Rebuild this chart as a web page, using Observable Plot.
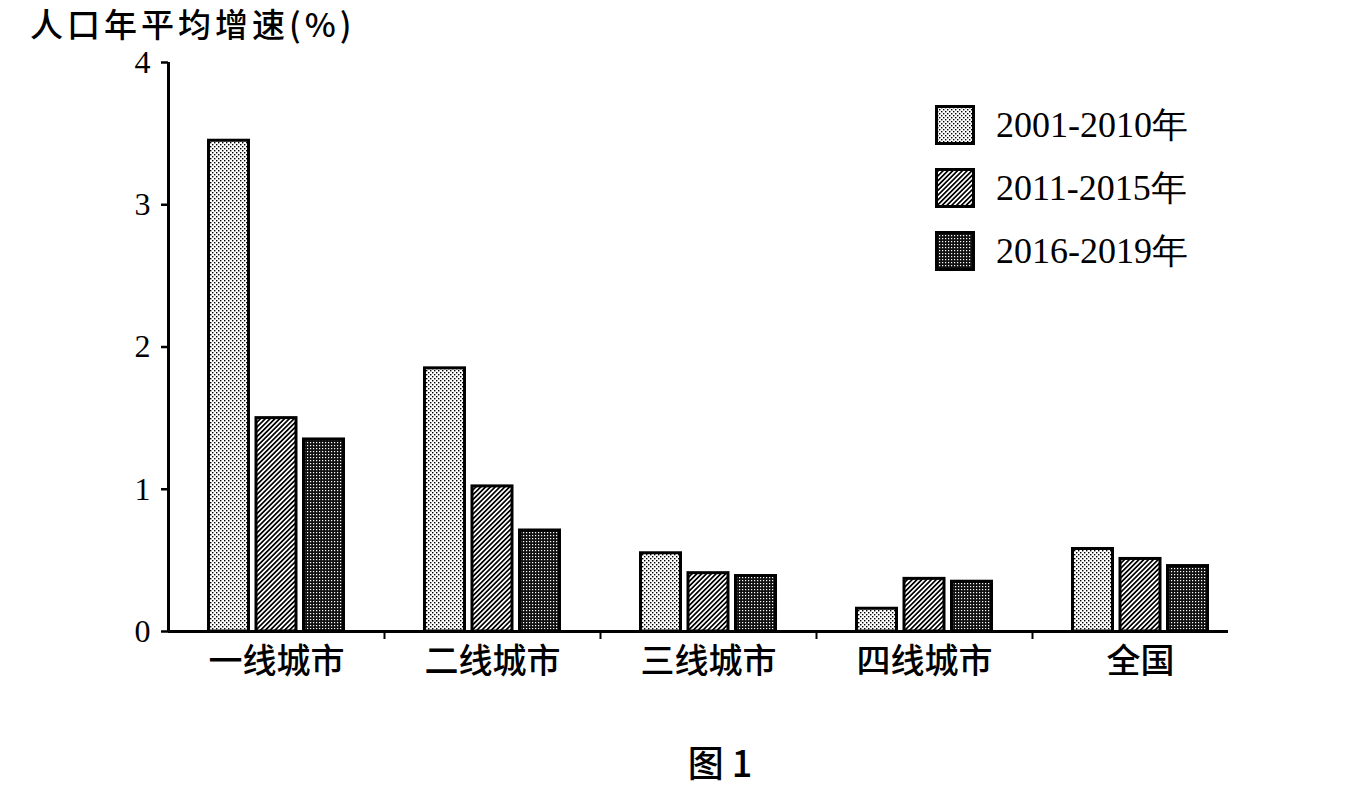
<!DOCTYPE html>
<html>
<head>
<meta charset="utf-8">
<script src="https://cdn.jsdelivr.net/npm/d3@7"></script>
<script src="https://cdn.jsdelivr.net/npm/@observablehq/plot@0.6"></script>
<style>
  html, body { margin: 0; padding: 0; background: #fff; }
  #wrap { position: relative; width: 1364px; height: 786px; overflow: hidden; }
  #title { position: absolute; left: 30px; top: 4px; font-family: "Noto Sans CJK SC", sans-serif; font-size: 33px; font-weight: 500; color: #000; letter-spacing: 4px; white-space: nowrap; line-height: 1.2; }
  #legend { position: absolute; left: 935px; top: 105px; }
  .row { display: flex; align-items: center; height: 40px; margin-bottom: 23px; }
  .row span { font-family: "Liberation Serif", serif; font-size: 36px; margin-left: 21px; color: #000; white-space: nowrap; }
  #caption { position: absolute; left: 0; width: 1440px; top: 735px; text-align: center; font-family: "Noto Sans CJK SC", sans-serif; font-size: 36px; font-weight: 500; color: #000; }
  #chart { position: absolute; left: 0; top: 0; }
</style>
</head>
<body>
<svg width="0" height="0" style="position:absolute">
  <defs>
    <pattern id="pat0" width="4" height="4" patternUnits="userSpaceOnUse">
      <rect width="4" height="4" fill="#fff"/>
      <rect x="0" y="0" width="1.4" height="1.4" fill="#000"/>
      <rect x="2" y="2" width="1.4" height="1.4" fill="#000"/>
    </pattern>
    <pattern id="pat1" width="3.4" height="3.4" patternUnits="userSpaceOnUse" patternTransform="rotate(45)">
      <rect width="3.4" height="3.4" fill="#fff"/>
      <rect x="0" y="0" width="1.7" height="3.4" fill="#000"/>
    </pattern>
    <pattern id="pat2" width="3" height="3" patternUnits="userSpaceOnUse">
      <rect width="3" height="3" fill="#111"/>
      <rect x="1" y="1" width="1.2" height="1.2" fill="#fff"/>
    </pattern>
  </defs>
</svg>
<div id="wrap">
  <div id="chart"></div>
  <div id="title">人口年平均增速(%)</div>
  <div id="legend"></div>
  <div id="caption">图 1</div>
</div>
<script>
const categories = ["一线城市", "二线城市", "三线城市", "四线城市", "全国"];
const periods = ["2001-2010年", "2011-2015年", "2016-2019年"];
const v2001_2010 = [3.45, 1.85, 0.55, 0.16, 0.58];
const v2011_2015 = [1.50, 1.02, 0.41, 0.37, 0.51];
const v2016_2019 = [1.35, 0.71, 0.39, 0.35, 0.46];
const yTicks = [0, 1, 2, 3, 4];

const seriesValues = [v2001_2010, v2011_2015, v2016_2019];
const fills = ["url(#pat0)", "url(#pat1)", "url(#pat2)"];

const W = 1364, H = 700, ML = 168, MR = 116, MT = 62, MB = 69;
const bw = (W - ML - MR) / categories.length;
const barW = 40, pitch = 47.5, off0 = 40.5;

const barMarks = seriesValues.map((vals, s) =>
  Plot.barY(categories.map((c, i) => ({cat: c, value: vals[i]})), {
    x: "cat", y: "value", fill: fills[s], stroke: "#000", strokeWidth: 3,
    insetLeft: off0 + s * pitch,
    insetRight: bw - (off0 + s * pitch) - barW
  })
);

const chart = Plot.plot({
  width: W, height: H,
  marginLeft: ML, marginRight: MR, marginTop: MT, marginBottom: MB,
  x: {domain: categories, padding: 0, axis: null, label: null},
  y: {domain: [0, 4], axis: null, label: null},
  style: {background: "#fff", color: "#000"},
  marks: [
    ...barMarks,
    Plot.ruleY([0], {strokeWidth: 3, insetRight: 20}),
    Plot.ruleX([categories[0]], {x: d => d, y1: 0, y2: 4, dx: -bw / 2, strokeWidth: 3}),
    Plot.axisY({ticks: yTicks, tickFormat: "d", label: null, tickSize: 7, tickPadding: 11, fontSize: 32, fontFamily: "Liberation Serif", strokeWidth: 2.5}),
    Plot.axisX({label: null, tickSize: 0, tickPadding: 17, fontSize: 34, fontFamily: "Noto Sans CJK SC", fontWeight: 500}),
    Plot.axisX({label: null, ticks: categories.slice(1), tickSize: 8, tickFormat: () => "", dx: -bw / 2, strokeWidth: 2})
  ]
});
document.getElementById("chart").appendChild(chart);

const legend = document.getElementById("legend");
periods.forEach((p, s) => {
  const row = document.createElement("div");
  row.className = "row";
  row.innerHTML = `<svg width="40" height="40"><rect x="1.5" y="1.5" width="37" height="37" fill="${fills[s]}" stroke="#000" stroke-width="3"/></svg><span>${p}</span>`;
  legend.appendChild(row);
});
</script>
</body>
</html>
